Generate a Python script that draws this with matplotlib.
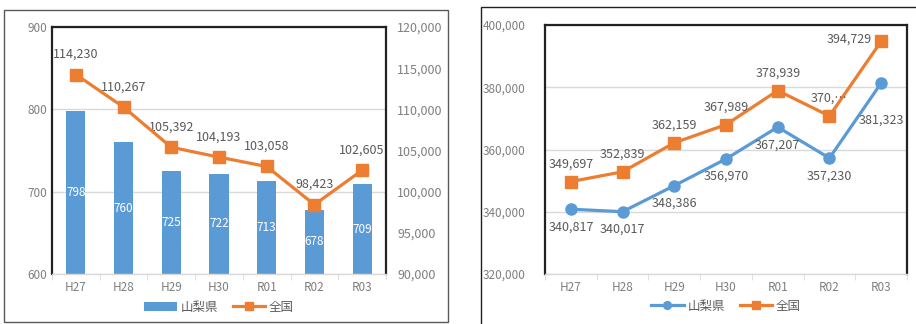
import matplotlib.pyplot as plt
from matplotlib.patches import Rectangle
from matplotlib.ticker import FuncFormatter, MultipleLocator

plt.rcParams['font.family'] = ['Noto Sans CJK JP', 'DejaVu Sans']

years = ['H27', 'H28', 'H29', 'H30', 'R01', 'R02', 'R03']

# left chart
yamanashi_left = [798, 760, 725, 722, 713, 678, 709]
national_left = [114230, 110267, 105392, 104193, 103058, 98423, 102605]

# right chart
yamanashi_right = [340817, 340017, 348386, 356970, 367207, 357230, 381323]
national_right = [349697, 352839, 362159, 367989, 378939, 370762, 394729]
national_right_labels = ['349,697', '352,839', '362,159', '367,989', '378,939', '370,…', '394,729']

BLUE = '#5B9BD5'
ORANGE = '#ED7D31'
TICK = '#7F7F7F'
LABEL = '#595959'
GRID = '#D9D9D9'

comma = FuncFormatter(lambda v, p: f'{int(v):,}')

fig = plt.figure(figsize=(9.16, 3.24), dpi=100)
W, H = 916, 324


def box(x0, y0, x1, y1):
    return [x0 / W, 1 - y1 / H, (x1 - x0) / W, (y1 - y0) / H]


# panel frames
fig.patches.append(Rectangle((4 / W, 1 - 322 / H), 444 / W, 312 / H, transform=fig.transFigure,
                             fill=False, ec='#595959', lw=1.0))
fig.patches.append(Rectangle((481 / W, 1 - 330 / H), 440 / W, 323 / H, transform=fig.transFigure,
                             fill=False, ec='#202020', lw=1.0))


def style_axes(ax):
    ax.set_xlim(-0.5, len(years) - 0.5)
    ax.set_xticks(list(range(len(years))))
    ax.set_xticklabels(years)
    ax.xaxis.set_minor_locator(MultipleLocator(1, offset=0.5))
    ax.tick_params(axis='x', which='major', length=0, colors=TICK, labelsize=8.5, pad=5)
    ax.tick_params(axis='x', which='minor', length=4, color=GRID)
    ax.tick_params(axis='y', length=0, colors=TICK, labelsize=8.5)
    ax.grid(axis='y', color=GRID, lw=1.0)
    ax.set_axisbelow(True)
    for s in ('left', 'top', 'right'):
        ax.spines[s].set_color('#222222')
        ax.spines[s].set_linewidth(1.6)
    ax.spines['bottom'].set_color(GRID)
    ax.spines['bottom'].set_linewidth(1.0)


x = list(range(len(years)))

# ---- left chart: bars + line on twin axis
ax1 = fig.add_axes(box(52, 27, 386, 274))
ax1.bar(x, yamanashi_left, width=0.4, color=BLUE, label='山梨県', zorder=2)
ax1.set_ylim(600, 900)
ax1.yaxis.set_major_locator(MultipleLocator(100))
style_axes(ax1)
for xi, v in zip(x, yamanashi_left):
    ax1.text(xi, (600 + v) / 2, str(v), color='white', ha='center', va='center', fontsize=8.5, zorder=3)

ax2 = ax1.twinx()
ax2.plot(x, national_left, color=ORANGE, lw=2.3, marker='s', ms=8, label='全国', zorder=4)
ax2.set_ylim(90000, 120000)
ax2.yaxis.set_major_locator(MultipleLocator(5000))
ax2.yaxis.set_major_formatter(comma)
ax2.tick_params(axis='y', length=0, colors=TICK, labelsize=9, pad=8)
for s in ax2.spines.values():
    s.set_visible(False)
for xi, v in zip(x, national_left):
    ax2.annotate(f'{v:,}', (xi, v), xytext=(0, 10), textcoords='offset points',
                 ha='center', va='bottom', color=LABEL, fontsize=9)

h1, l1 = ax1.get_legend_handles_labels()
h2, l2 = ax2.get_legend_handles_labels()
fig.legend(h1 + h2, l1 + l2, loc='center', bbox_to_anchor=(219 / W, 1 - 307 / H), ncol=2,
           frameon=False, fontsize=9, labelcolor=LABEL, handlelength=2.6, columnspacing=1.2,
           handletextpad=0.3, markerscale=0.7)

# ---- right chart: two lines
ax3 = fig.add_axes(box(545, 25, 907, 274))
ax3.plot(x, yamanashi_right, color=BLUE, lw=2.3, marker='o', ms=8, label='山梨県', zorder=3)
ax3.plot(x, national_right, color=ORANGE, lw=2.3, marker='s', ms=8, label='全国', zorder=3)
ax3.set_ylim(320000, 400000)
ax3.yaxis.set_major_locator(MultipleLocator(20000))
ax3.yaxis.set_major_formatter(comma)
style_axes(ax3)
ax3.tick_params(axis='y', pad=14)
last = len(x) - 1
for xi, v in zip(x, yamanashi_right):
    dy = -22 if xi == last else -8
    ax3.annotate(f'{v:,}', (xi, v), xytext=(0, dy), textcoords='offset points',
                 ha='center', va='top', color=LABEL, fontsize=9)
for xi, v, t in zip(x, national_right, national_right_labels):
    if xi == last:
        ax3.text(xi - 0.18, v + 600, t, ha='right', va='center', color=LABEL, fontsize=9)
    else:
        ax3.annotate(t, (xi, v), xytext=(0, 8), textcoords='offset points',
                     ha='center', va='bottom', color=LABEL, fontsize=9)
ax3.legend(loc='center', bbox_to_anchor=(0.5, -0.13), ncol=2, frameon=False, fontsize=9,
           labelcolor=LABEL, handlelength=2.6, columnspacing=1.2, handletextpad=0.3,
           markerscale=0.7)

fig.savefig('out.png', dpi=100)
